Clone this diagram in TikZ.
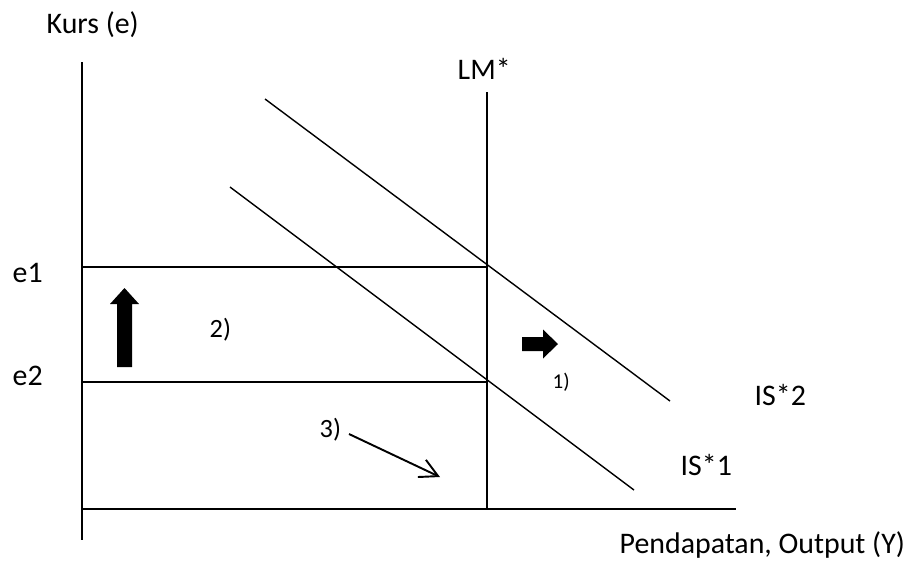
\documentclass[tikz,border=0pt]{standalone}
\usepackage{fontspec}
\setmainfont{Carlito}
\usetikzlibrary{arrows.meta, positioning}

\begin{document}
\begin{tikzpicture}[x=0.02cm, y=-0.02cm, line width=0.8pt,
    every node/.style={font=\fontsize{17}{20}\selectfont, inner sep=0pt, anchor=base west},
    nomor/.style={font=\fontsize{15}{18}\selectfont}]

        \useasboundingbox (0,0) rectangle (909,569);

        % Sumbu
        \draw (82,62) -- (82,540);
        \draw (82,509) -- (736,509);
        \node (kurs) at (46,33) {Kurs (e)};
        \node (output) at (619,553) {Pendapatan, Output (Y)};

        % LM*
        \draw (487,92) -- (487,509);
        \node (lm) at (457,79) {LM*};

        % Kurs e1 dan e2
        \draw (82,267) -- (487,267);
        \draw (82,382) -- (487,382);
        \node (e1) at (12,282) {e1};
        \node (e2) at (12,385) {e2};

        % Kurva IS*
        \draw (265,99) -- (670,401);
        \draw (230,187) -- (634,490);
        \node (is2) at (754,405) {IS*2};
        \node (is1) at (680,475) {IS*1};

        % Panah
        \fill (117,367) -- (117,304) -- (110,304) -- (124.5,288) -- (139,304) -- (132,304) -- (132,367) -- cycle;
        \fill (522,337) -- (543,337) -- (543,329.5) -- (558,344) -- (543,358.5) -- (543,351) -- (522,351) -- cycle;
        \coordinate (awal) at (349,434);
        \coordinate (akhir) at (440,477);
        \draw[line width=1.1pt, -{Straight Barb[length=0.36cm, width=0.38cm]}] (awal) -- (akhir);

        % Nomor
        \node[nomor] (n2) at (209,337) {2)};
        \node[font=\fontsize{12}{14}\selectfont] (n1) at (552,388) {1)};
        \node[nomor] (n3) at (319,437) {3)};

    \end{tikzpicture}
\end{document}
